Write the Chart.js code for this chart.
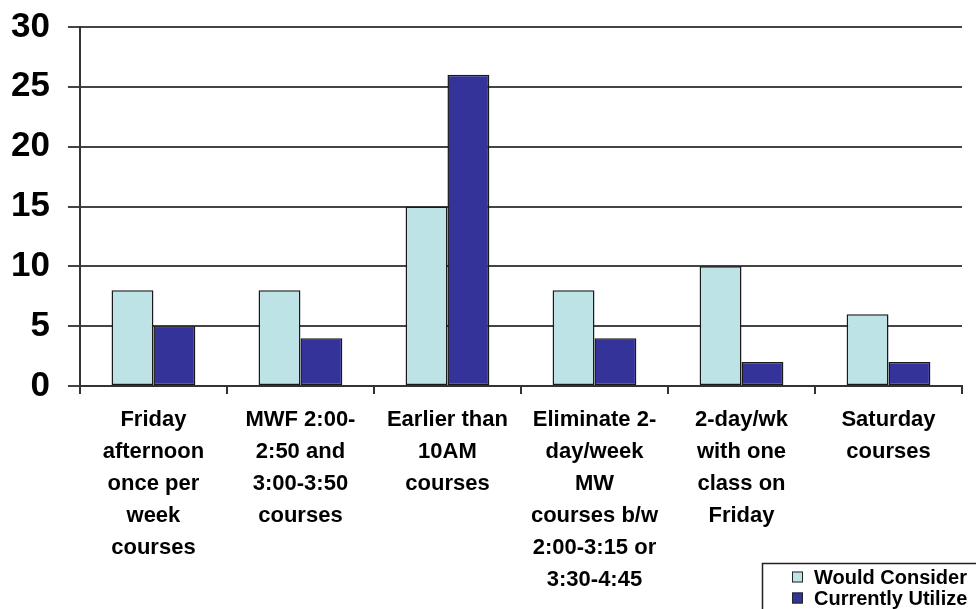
<!DOCTYPE html>
<html>
<head>
<meta charset="utf-8">
<script src="https://cdn.jsdelivr.net/npm/chart.js@4"></script>
<style>
  html, body { margin: 0; padding: 0; background: #fff; }
  #wrap { width: 976px; height: 609px; }
</style>
</head>
<body>
<div id="wrap"><canvas id="scheduleChart" width="976" height="609"></canvas></div>
<script>
const categories = [
  ['Friday', 'afternoon', 'once per', 'week', 'courses'],
  ['MWF 2:00-', '2:50 and', '3:00-3:50', 'courses'],
  ['Earlier than', '10AM', 'courses'],
  ['Eliminate 2-', 'day/week', 'MW', 'courses b/w', '2:00-3:15 or', '3:30-4:45'],
  ['2-day/wk', 'with one', 'class on', 'Friday'],
  ['Saturday', 'courses']
];
const wouldConsider = [8, 8, 15, 8, 10, 6];
const currentlyUtilize = [5, 4, 26, 4, 2, 2];
const yTicks = [0, 5, 10, 15, 20, 25, 30];

const FONT = '"Liberation Sans", Arial, Helvetica, sans-serif';

// boxed legend in the lower right corner, partly cut off by the canvas edge
const cornerLegend = {
  id: 'cornerLegend',
  afterDraw(chart) {
    const ctx = chart.ctx;
    ctx.save();
    ctx.strokeStyle = '#222';
    ctx.lineWidth = 1.5;
    ctx.strokeRect(762.5, 563.5, 230, 60);
    ctx.font = 'bold 20px ' + FONT;
    ctx.textBaseline = 'middle';
    chart.data.datasets.forEach((ds, i) => {
      const y = 577 + i * 21;
      ctx.fillStyle = ds.backgroundColor;
      ctx.fillRect(792, y - 5.5, 11, 11);
      ctx.strokeStyle = '#222';
      ctx.lineWidth = 1;
      ctx.strokeRect(792.5, y - 5, 10, 10);
      ctx.fillStyle = '#000';
      ctx.fillText(ds.label, 814, y + 1);
    });
    ctx.restore();
  }
};

const ctx = document.getElementById('scheduleChart').getContext('2d');
new Chart(ctx, {
  type: 'bar',
  data: {
    labels: categories,
    datasets: [
      {
        label: 'Would Consider',
        data: wouldConsider,
        backgroundColor: '#bde3e6',
        borderColor: '#1a1a1a',
        borderWidth: 1.5,
        borderSkipped: false
      },
      {
        label: 'Currently Utilize',
        data: currentlyUtilize,
        backgroundColor: '#333399',
        borderColor: '#1a1a1a',
        borderWidth: 1.5,
        borderSkipped: false
      }
    ]
  },
  options: {
    responsive: false,
    animation: false,
    layout: { padding: { left: -7, right: 14, top: 27, bottom: 3 } },
    datasets: {
      bar: { categoryPercentage: 0.57, barPercentage: 1.0 }
    },
    plugins: {
      legend: { display: false },
      tooltip: { enabled: false }
    },
    scales: {
      x: {
        grid: {
          offset: true,
          drawOnChartArea: false,
          tickLength: 8,
          color: '#333',
          lineWidth: 2
        },
        border: { color: '#333', width: 2 },
        ticks: {
          color: '#000',
          font: { family: FONT, size: 22, weight: 'bold', lineHeight: 32 / 22 },
          padding: 10,
          maxRotation: 0,
          autoSkip: false
        }
      },
      y: {
        min: 0,
        max: 30,
        afterBuildTicks(scale) {
          scale.ticks = yTicks.map(v => ({ value: v }));
        },
        grid: { color: '#444', lineWidth: 2, tickLength: 12 },
        border: { color: '#333', width: 2 },
        ticks: {
          color: '#000',
          font: { family: FONT, size: 35, weight: 'bold', lineHeight: 0.5 },
          padding: 18
        }
      }
    }
  },
  plugins: [cornerLegend]
});
</script>
</body>
</html>
